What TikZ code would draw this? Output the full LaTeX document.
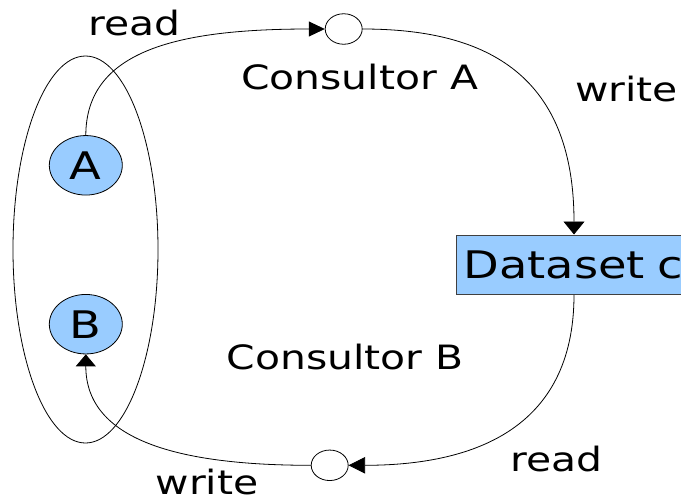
\documentclass[tikz,border=0pt]{standalone}
\usepackage{fontspec}
\setmainfont{DejaVu Sans}[FakeStretch=1.22]
\usetikzlibrary{shapes.geometric,arrows.meta,calc}
\definecolor{lblue}{HTML}{99CCFF}
\begin{document}
\begin{tikzpicture}[x=1pt,y=-1pt,
  lbl/.style={inner sep=0pt, anchor=base west, font=\fontsize{33.5}{40}\selectfont},
  actor/.style={ellipse, draw=black, fill=lblue, line width=0.8pt, minimum width=73pt, minimum height=59.5pt, inner sep=0pt, font=\fontsize{38}{44}\selectfont},
  port/.style={ellipse, draw=black, fill=white, line width=0.8pt, minimum width=37pt, minimum height=30.5pt, inner sep=0pt},
  group/.style={ellipse, draw=black, line width=0.8pt, minimum width=145pt, minimum height=387pt, inner sep=0pt},
  dsbox/.style={rectangle, draw=black!75, fill=lblue, line width=0.8pt, minimum height=59.5pt, text width=260pt, inner xsep=7.4pt, inner ysep=0pt, align=left, font=\fontsize{38}{44}\selectfont},
  conn/.style={draw=black, line width=0.8pt},
]
\useasboundingbox (0,0) rectangle (681,496);
\clip (0,0) rectangle (681,496);

\node[group] (grp) at (85.5,249.5) {};

\node[port] (pa) at (343.7,29) {};
\node[port] (pb) at (329.7,465.3) {};
\node[dsbox, anchor=north west] (ds) at (455.7,234.5) {Dataset c};

\draw[conn, -{Triangle[length=16pt,width=15pt]}] (85.8,135.6) .. controls +(0,-86) and +(-145,0) .. (pa.west);
\draw[conn, -{Triangle[length=13pt,width=21pt]}] (pa.east) .. controls +(118,0) and +(0,-164.5) .. ($(ds.north west)+(118.3,0)$);
\draw[conn, -{Triangle[length=16.5pt,width=16.5pt]}] ($(ds.south west)+(118.3,0)$) .. controls +(0,136) and +(122,0) .. (pb.east);

\node[actor] (A) at (85.8,165.3) {A};
\node[actor] (B) at (85.8,324.2) {B};

\draw[conn, -{Triangle[length=12pt,width=20pt]}] (pb.west) .. controls +(-132,0) and +(0,86) .. (B.south);

\node[lbl] (r1) at (88.6,35) {read};
\node[lbl] (ca) at (241,89.3) {Consultor A};
\node[lbl] (w1) at (575,101) {write};
\node[lbl] (cb) at (226.7,369.3) {Consultor B};
\node[lbl] (r2) at (510.3,471) {read};
\node[lbl] (w2) at (155.5,494.3) {write};
\end{tikzpicture}
\end{document}
